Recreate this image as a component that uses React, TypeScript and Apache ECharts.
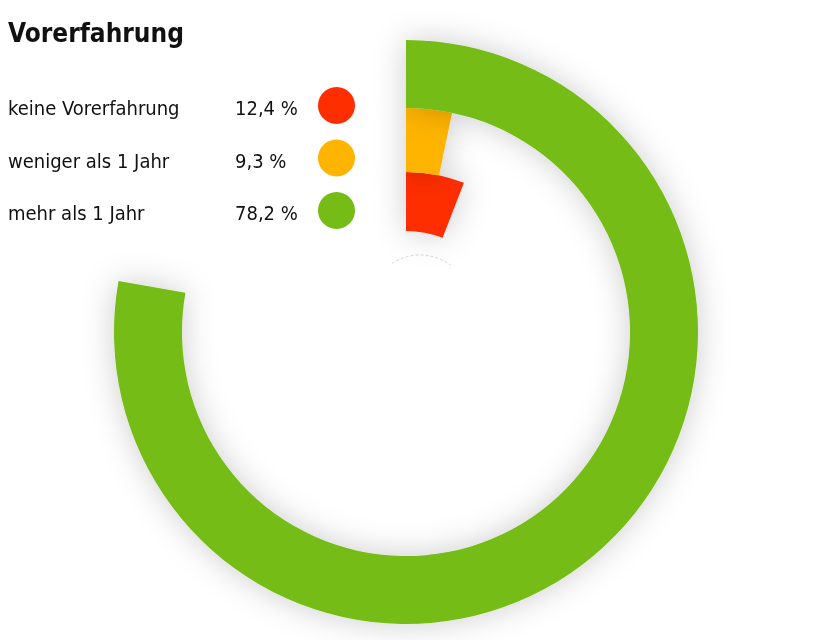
import React, { useEffect, useRef } from 'react';
import * as echarts from 'echarts';

// Kategorien und Werte aus dem Bild
const categories = ['keine Vorerfahrung', 'weniger als 1 Jahr', 'mehr als 1 Jahr'];
const shares = [12.4, 9.3, 78.2]; // Prozentwerte in der Legende
const arcSweep = [5.9, 3.3, 77.8]; // Bogen in % des Vollkreises, so wie er gezeichnet ist
const colors = ['#ff2e00', '#ffb400', '#76bc16'];

const font = "'DejaVu Sans Condensed', 'Liberation Sans Narrow', Roboto, sans-serif";

const App = () => {
  const chartRef = useRef<HTMLDivElement>(null);

  useEffect(() => {
    const chart = echarts.init(chartRef.current, null, { renderer: 'svg' });

    // innen -> aussen: rot, gelb, grün
    const rings = [
      [101, 160],
      [160, 224],
      [224, 292],
    ];
    const center = [406, 332];
    const txt = { fontFamily: font, fontSize: 20, color: '#111', align: 'left' };

    chart.setOption({
      animation: false,
      title: {
        text: 'Vorerfahrung',
        left: 8,
        top: 20,
        padding: 0,
        textStyle: { fontFamily: font, fontSize: 26, fontWeight: 'bold', color: '#111' },
      },
      legend: {
        data: categories,
        orient: 'vertical',
        left: 3,
        top: 82,
        align: 'right',
        icon: 'circle',
        itemWidth: 37,
        itemHeight: 37,
        itemGap: 15.5,
        selectedMode: false,
        itemStyle: { shadowBlur: 0, shadowColor: 'transparent' },
        formatter: (name: string) => {
          const v = shares[categories.indexOf(name)].toFixed(1).replace('.', ',');
          return `{n|${name}}{v|${v} %}`;
        },
        textStyle: {
          fontFamily: font,
          fontSize: 20,
          color: '#111',
          rich: {
            n: { ...txt, width: 227, padding: [5, 0, 0, 0] },
            v: { ...txt, width: 78, padding: [5, 0, 0, 0] },
          },
        },
      },
      polar: rings.map((r) => ({ center, radius: r })),
      angleAxis: rings.map((_, i) => ({
        polarIndex: i,
        type: 'value',
        min: 0,
        max: 100,
        startAngle: 90,
        show: false,
      })),
      radiusAxis: rings.map((_, i) => ({
        polarIndex: i,
        type: 'category',
        data: [categories[i]],
        show: false,
      })),
      series: categories.map((name, i) => ({
        type: 'bar',
        name,
        coordinateSystem: 'polar',
        polarIndex: i,
        data: [arcSweep[i]],
        barWidth: '100%',
        silent: true,
        itemStyle: {
          color: colors[i],
          shadowBlur: 32,
          shadowColor: 'rgba(0,0,0,0.2)',
        },
      })),
      graphic: [
        {
          type: 'arc',
          shape: { cx: 420, cy: 306, r: 51, startAngle: -2.15, endAngle: -0.93, clockwise: true },
          style: { stroke: '#d6d6d6', lineWidth: 1, fill: 'none', lineDash: [3, 2] },
          silent: true,
        },
      ],
    });

    return () => {
      chart.dispose();
    };
  }, []);

  return (
    <div
      ref={chartRef}
      style={{ position: 'fixed', left: 0, top: 0, width: '815px', height: '640px' }}
    />
  );
};

export default App;
